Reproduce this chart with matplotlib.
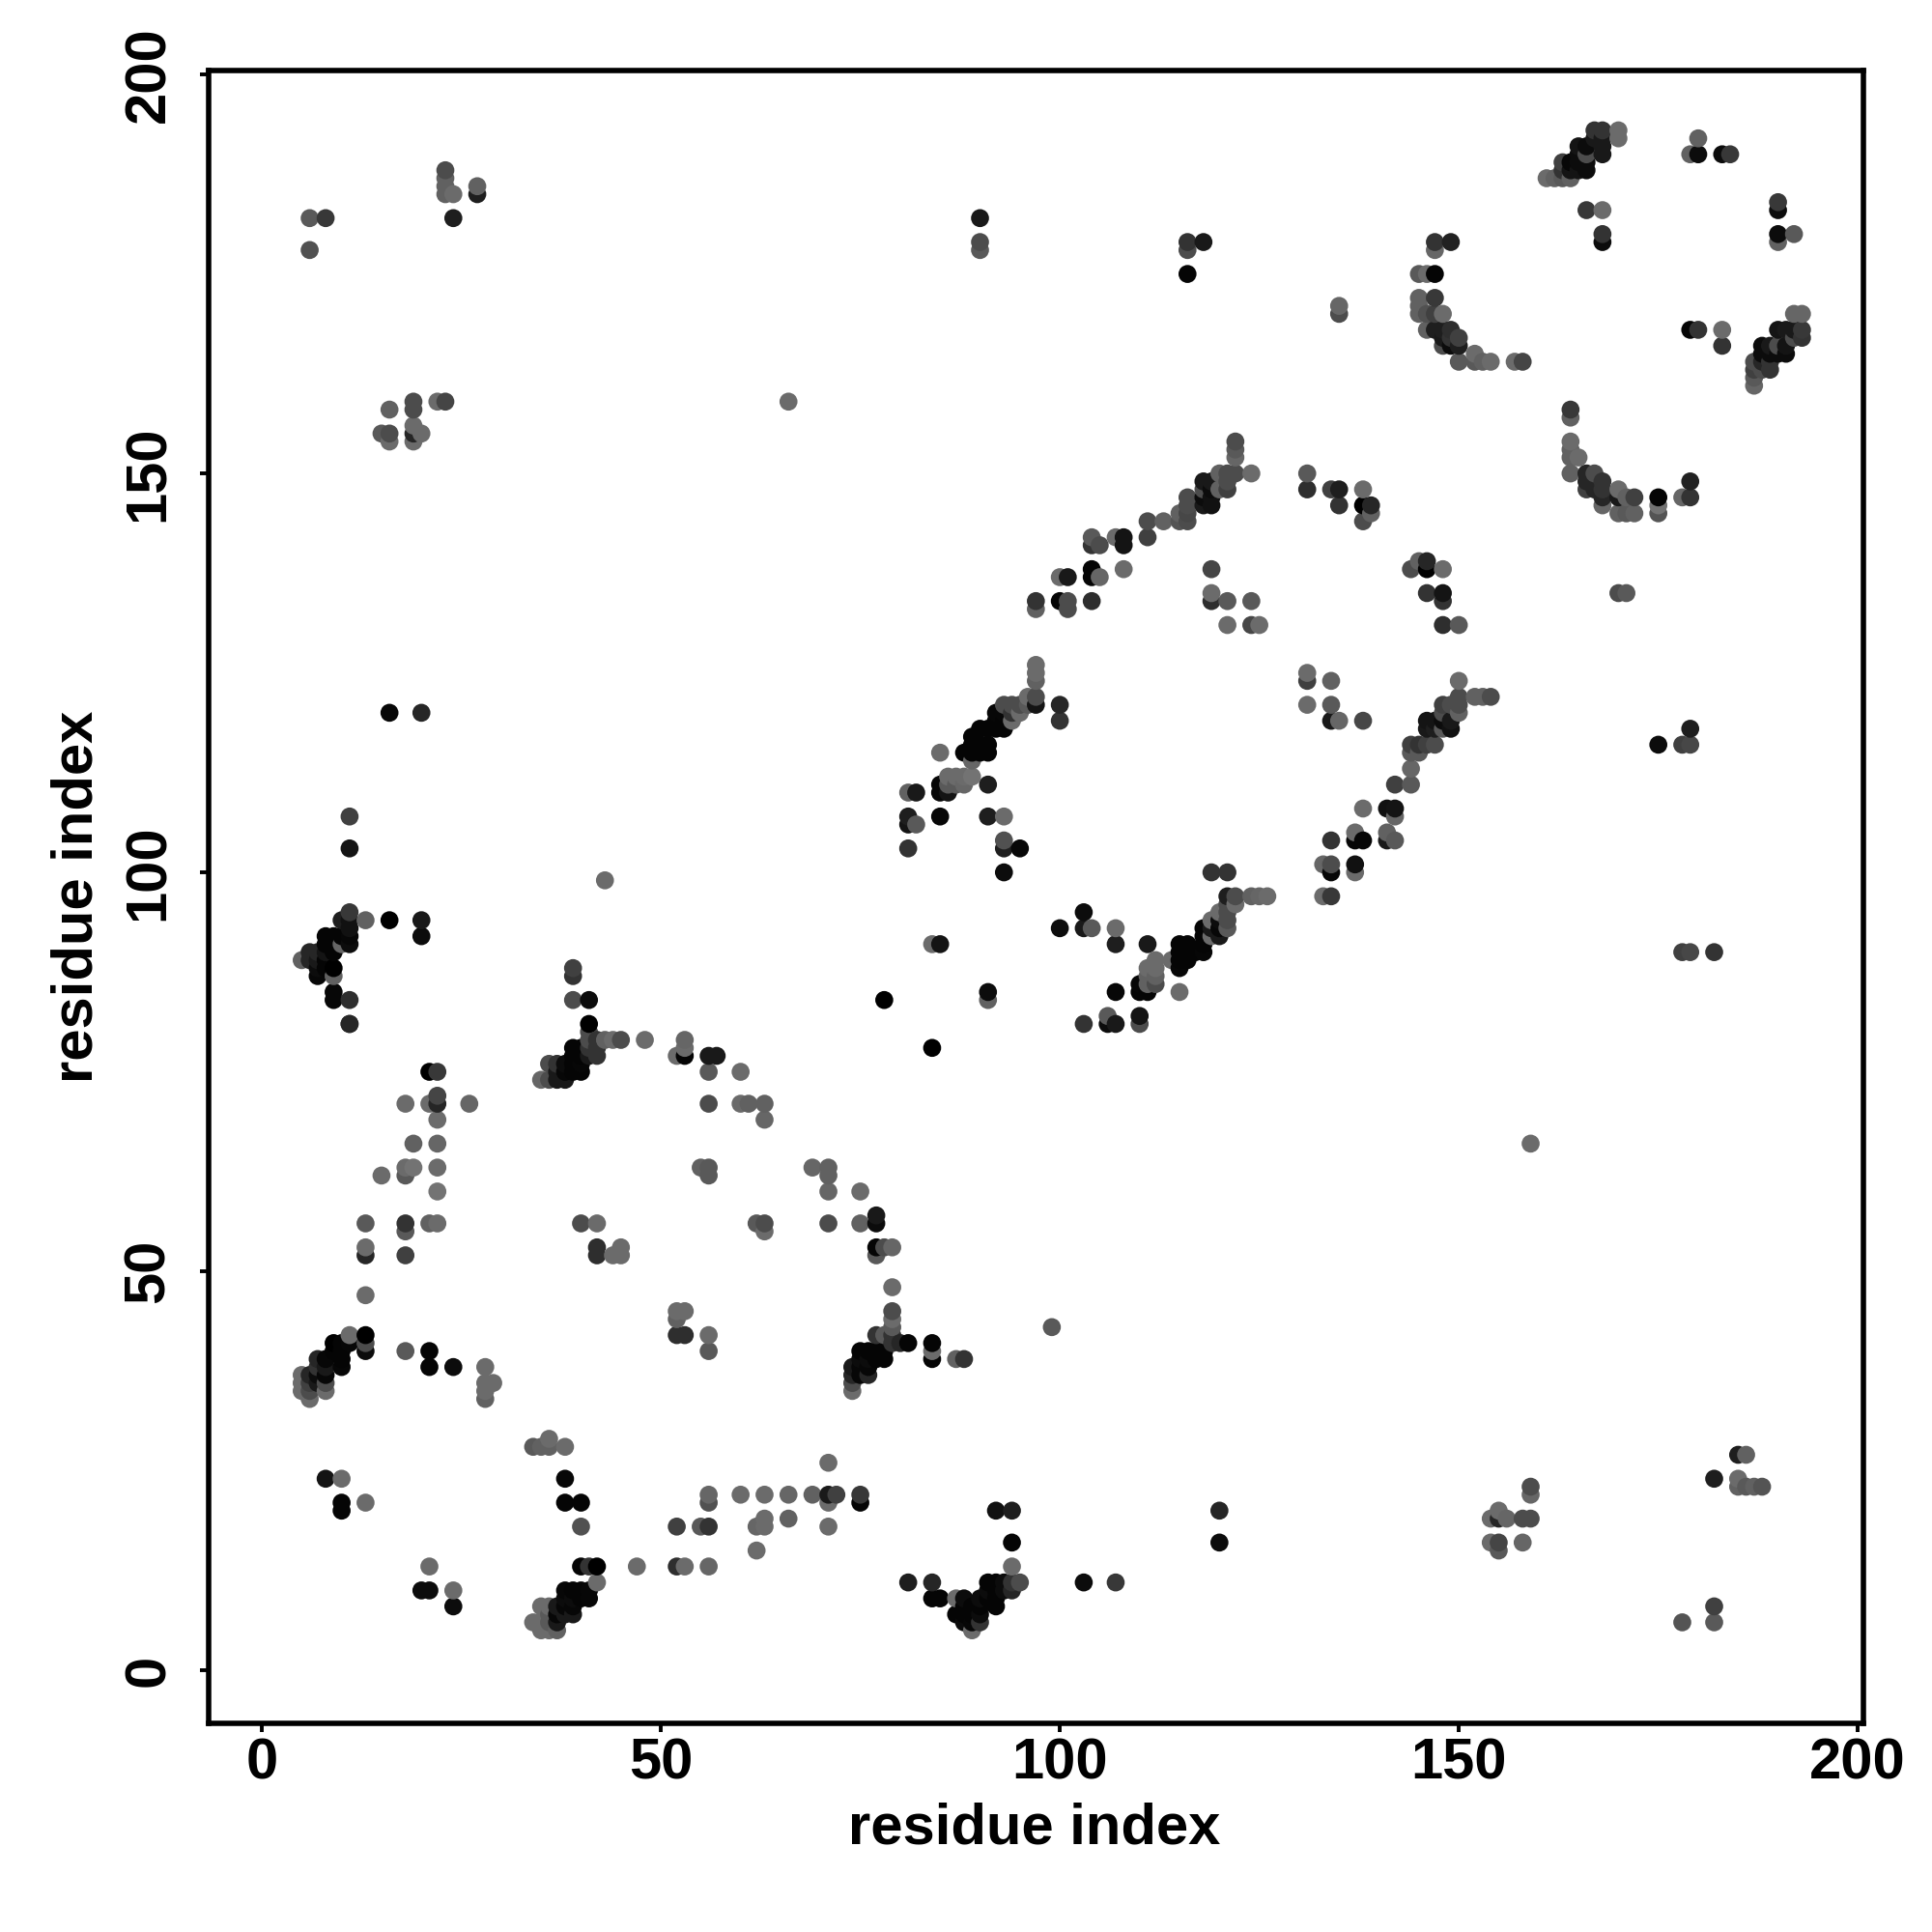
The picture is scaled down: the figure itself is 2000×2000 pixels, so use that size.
import matplotlib
matplotlib.use("Agg")
import matplotlib.pyplot as plt
import numpy as np

# contacts as (residue i, residue j, grey level), grouped by the blob they sit in
low_left = [(5,37,.42),(5,36,.42),(5,35,.42),(6,37,.15),(6,36,.25),(6,35,.3),(6,34,.42),(7,39,.15),(7,38,.2),(7,37,.05),(7,36,.1),
    (8,39,.03),(8,38,.1),(8,37,.03),(8,36,.3),(8,35,.42),(9,41,.0),(9,40,.02),(10,41,.02),(10,40,.02),(10,39,.02),(10,38,.03),
    (11,42,.42),(11,41,.03),(13,42,.0),(13,41,.3),(13,40,.05),(18,40,.35),(21,40,.02),(21,38,.02),(24,38,.05),
    (28,38,.42),(28,36,.42),(29,36,.42),(28,35,.42),(28,34,.38)]
upper_grey = [(11,81,.13),(21,75,.0),(22,75,.22),(18,71,.42),(21,71,.42),(22,72,.27),(22,71,.15),(26,71,.4),(22,69,.42),
    (19,66,.38),(22,66,.4),(18,63,.42),(19,63,.45),(18,62,.35),(15,62,.42),(22,63,.42),(22,60,.45),
    (13,56,.35),(18,56,.2),(18,55,.35),(21,56,.38),(22,56,.42),(13,53,.42),(13,52,.15),(18,52,.25),(13,47,.42)]
strand_36_80 = [(41,81,.0),(41,80,.3),(41,79,.3),(42,79,.2),(43,79,.38),(44,79,.42),(45,79,.3),(48,79,.42),(42,78,.2),(42,77,.2),
    (39,78,.02),(40,78,.02),(41,78,.2),(39,77,.02),(40,77,.02),(41,77,.1),(37,76,.2),(38,76,.05),(39,76,.02),(40,76,.03),
    (37,75,.1),(38,75,.03),(39,75,.02),(40,75,.02),(35,74,.4),(36,74,.3),(37,74,.1),(38,74,.1),(36,76,.3),
    (39,88,.25),(39,87,.2),(39,84,.3),(41,84,.05),(43,99,.42)]
mid_grey = [(40,56,.3),(42,56,.42),(42,53,.18),(42,52,.18),(44,52,.42),(45,53,.42),(45,52,.42),(52,45,.42),(53,45,.42),(52,44,.38),
    (52,42,.18),(53,42,.18),(56,42,.42),(56,40,.35),(52,77,.42),(53,79,.4),(53,78,.42),(53,77,.02),(56,77,.1),(57,77,.1),(56,75,.35),
    (56,71,.3),(60,75,.42),(60,71,.42),(61,71,.38),(63,71,.38),(63,69,.4),(55,63,.38),(56,63,.35),(56,62,.35),(69,63,.4),(71,63,.38),
    (71,62,.38),(71,60,.4),(75,60,.42),(62,56,.35),(63,56,.3),(63,55,.42),(71,56,.3),(75,56,.38),(77,57,.1),(77,56,.05),
    (77,53,.02),(78,53,.3),(79,53,.4),(77,52,.35),(79,48,.42)]
bottom_row = [(36,29,.42),(34,28,.35),(35,28,.38),(36,28,.38),(38,28,.42),(8,24,.08),(10,24,.42),(38,24,.03),(10,21,.02),(10,20,.02),
    (13,21,.42),(38,21,.02),(40,21,.02),(40,18,.32),(56,22,.4),(56,21,.32),(60,22,.42),(63,22,.42),(66,22,.4),(69,22,.38),(71,22,.1),
    (72,22,.25),(75,22,.22),(75,21,.02),(71,21,.42),(71,26,.42),(63,19,.42),(66,19,.38),(62,18,.4),(63,18,.42),(71,18,.42),
    (52,18,.25),(55,18,.35),(56,18,.2),(62,15,.42),(21,13,.42),(20,10,.05),(21,10,.05),(24,10,.42),(24,8,.05),
    (47,13,.42),(52,13,.18),(53,13,.42),(56,13,.4)]
low_strand = [(40,13,.02),(41,13,.2),(42,13,.0),(42,11,.42),(41,10,.03),(41,9,.03),(40,10,.02),(40,9,.02),(39,10,.02),(38,10,.03),
    (39,9,.05),(39,8,.03),(39,7,.1),(38,9,.05),(38,8,.03),(37,8,.1),(37,7,.03),(37,6,.1),(36,8,.42),(35,8,.42),(36,7,.35),(34,6,.42),
    (35,6,.42),(35,5,.42),(36,5,.42),(37,5,.38),(36,6,.35),(38,7,.1)]
strand_74_81 = [(79,45,.3),(79,44,.42),(79,43,.35),(77,42,.2),(78,42,.35),(79,42,.2),(79,41,.2),(81,41,.02),(80,41,.15),(75,40,.02),
    (76,40,.02),(77,40,.02),(78,40,.02),(77,39,.02),(78,39,.02),(75,39,.05),(76,39,.05),(76,38,.03),(75,38,.03),(74,38,.1),
    (76,37,.15),(75,37,.03),(74,37,.15),(74,36,.3),(74,35,.42),(84,41,.02),(84,40,.42),(84,39,.02),(87,39,.38),(88,39,.2),(99,43,.35)]
strand_88_95 = [(92,20,.07),(94,20,.12),(94,16,.02),(94,13,.42),(81,11,.12),(84,11,.15),(84,9,.02),(85,9,.02),(87,9,.42),(87,7,.02),
    (88,8,.02),(88,9,.05),(88,7,.02),(88,6,.05),(89,5,.42),(89,6,.03),(89,7,.02),(89,8,.02),(90,6,.2),(90,7,.05),(90,9,.05),(90,8,.02),
    (91,9,.02),(91,10,.05),(92,8,.02),(92,9,.02),(92,10,.02),(92,11,.02),(91,11,.02),(93,11,.05),(94,10,.15),(94,11,.2),(95,11,.3),
    (93,10,.05),(103,11,.05),(107,11,.22),(120,20,.15),(120,16,.05)]
diag_85_100 = [(97,126,.42),(97,125,.42),(97,124,.38),(97,122,.3),(96,122,.42),(97,121,.08),(100,121,.15),(100,119,.2),(93,121,.3),
    (94,121,.3),(95,121,.3),(96,121,.35),(92,120,.03),(93,120,.03),(94,120,.2),(95,120,.42),(94,119,.42),(92,119,.02),(93,119,.02),
    (90,118,.02),(91,118,.02),(92,118,.02),(93,118,.02),(89,117,.02),(89,116,.02),(90,116,.02),(91,116,.02),(89,115,.02),(90,115,.02),
    (91,115,.02),(88,115,.02),(89,114,.4),(85,115,.42),(86,112,.42),(87,112,.42),(88,112,.42),(89,112,.45),(85,111,.03),(86,111,.35),
    (87,111,.35),(88,111,.4),(91,111,.12),(85,110,.03),(86,110,.08),(81,110,.38),(82,110,.1),(81,107,.12),(81,106,.08),(82,106,.35),
    (85,107,.03),(91,107,.12),(93,107,.42),(81,103,.2),(93,104,.32),(93,103,.12),(95,103,.03),(93,100,.05)]
diag_110_126 = [(119,100,.2),(121,100,.2),(121,97,.12),(122,97,.3),(124,97,.38),(125,97,.4),(126,97,.42),(122,96,.42),(121,96,.3),
    (120,95,.42),(121,95,.3),(119,94,.42),(120,94,.05),(121,94,.3),(118,93,.02),(119,93,.1),(120,93,.03),(121,93,.35),(118,92,.02),
    (119,92,.42),(120,92,.1),(118,91,.02),(118,90,.03),(115,91,.02),(116,91,.02),(115,90,.02),(116,90,.02),(117,90,.02),(114,89,.42),
    (115,89,.02),(116,89,.02),(115,88,.03),(112,89,.42),(111,88,.42),(112,88,.42),(112,87,.38),(111,87,.38),(110,86,.03),(111,86,.38),
    (112,86,.3),(110,85,.02),(111,85,.02),(107,85,.03),(115,85,.42),(111,91,.1),(107,93,.42),(107,91,.12),(103,95,.05),(103,93,.1),
    (104,93,.35),(100,93,.05),(84,91,.42),(85,91,.08),(78,84,.0),(91,85,.05),(91,84,.38),(84,78,.0),(103,81,.2),(106,82,.35),
    (106,81,.05),(107,81,.1),(110,82,.08),(110,81,.3)]
right_of_ring = [(131,125,.42),(131,124,.25),(134,124,.38),(131,121,.42),(134,121,.35),(134,119,.1),(135,119,.4),(138,119,.28),
    (142,111,.25),(141,108,.07),(142,108,.08),(138,108,.42),(142,107,.4),(137,105,.42),(141,105,.38),(141,104,.1),(142,104,.35),
    (134,104,.2),(137,104,.03),(138,104,.03),(133,101,.4),(134,101,.3),(134,100,.03),(137,101,.07),(137,100,.42),(133,97,.42),(134,97,.22)]
diag_144_154 = [(148,134,.2),(148,131,.18),(150,131,.35),(150,124,.42),(150,122,.3),(152,122,.38),(153,122,.38),(154,122,.3),(150,121,.3),
    (148,121,.25),(149,121,.3),(150,120,.38),(148,120,.3),(146,119,.08),(147,119,.08),(149,119,.1),(148,119,.05),(146,118,.1),(147,118,.12),
    (148,118,.35),(149,118,.07),(144,116,.25),(145,116,.2),(146,116,.25),(147,116,.3),(144,115,.35),(145,115,.35),(144,113,.4),(144,111,.35),
    (179,118,.12),(175,116,.05),(178,116,.25),(179,116,.28),(178,90,.25),(179,90,.28),(182,90,.2)]
diag_97_125 = [(122,154,.3),(122,153,.35),(122,152,.4),(124,150,.42),(122,150,.3),(121,150,.3),(120,150,.38),(121,149,.3),(118,149,.1),
    (119,149,.1),(121,148,.25),(120,148,.38),(118,148,.3),(119,148,.05),(116,147,.3),(118,147,.05),(119,147,.07),(118,146,.1),(119,146,.07),
    (116,146,.3),(115,145,.38),(116,145,.28),(115,144,.33),(116,144,.3),(111,144,.3),(113,144,.38),(111,142,.25),(104,142,.35),(105,141,.3),
    (104,141,.2),(107,142,.42),(108,142,.08),(108,141,.08),(108,138,.42),(104,138,.02),(104,137,.02),(105,137,.4),(100,137,.42),(101,137,.1),
    (97,134,.2),(97,133,.38),(100,134,.02),(101,134,.3),(101,133,.3),(104,134,.18),(119,138,.27),(119,135,.42),(119,134,.18),(121,134,.35),
    (124,134,.35),(121,131,.42),(124,131,.28),(125,131,.42)]
ring_top = [(131,150,.35),(131,148,.18),(134,148,.25),(135,148,.12),(135,146,.2),(138,148,.42),(138,146,.0),(139,146,.15),(139,145,.38),
    (138,144,.3),(144,138,.3),(145,139,.38),(146,139,.15),(146,138,.0),(148,138,.42),(146,135,.2),(148,135,.08)]
top_left = [(6,182,.35),(8,182,.22),(6,178,.32),(23,188,.3),(23,187,.38),(23,186,.38),(23,185,.38),(24,185,.42),(24,182,.12),(27,186,.38),
    (27,185,.12),(22,159,.42),(23,159,.27),(19,159,.3),(19,158,.3),(16,158,.38),(19,156,.42),(20,155,.42),(19,155,.15),(19,154,.42),
    (15,155,.35),(16,155,.3),(16,154,.42),(66,159,.42),(159,66,.42),(16,120,.03),(20,120,.15),(90,182,.1),(90,179,.3),(90,178,.35)]
bottom_right = [(159,23,.3),(159,22,.4),(155,20,.42),(154,19,.42),(155,19,.15),(156,19,.4),(158,19,.3),(159,19,.3),(154,16,.42),(155,16,.27),
    (158,16,.4),(155,15,.35),(185,27,.12),(186,27,.38),(182,24,.12),(185,24,.42),(185,23,.38),(186,23,.35),(187,23,.38),(188,23,.33),
    (182,8,.25),(182,6,.35),(178,6,.33)]
top_right = [(170,193,.42),(170,192,.42),(167,193,.2),(168,193,.2),(167,192,.1),(168,192,.1),(165,191,.08),(166,191,.05),(168,191,.1),(168,190,.1),
    (165,190,.05),(166,190,.3),(163,189,.25),(164,189,.03),(165,189,.05),(166,189,.05),(163,188,.2),(164,188,.08),(166,188,.05),(165,188,.08),
    (161,187,.42),(162,187,.38),(163,187,.35),(164,187,.38),(180,192,.38),(179,190,.38),(180,190,.05),(183,190,.05),(184,190,.22),
    (166,183,.22),(168,183,.42),(168,180,.2),(168,179,.05),(190,184,.22),(190,183,.05),(190,180,.05),(192,180,.35),(190,179,.38),
    (116,175,.02),(116,178,.3),(116,179,.2),(118,179,.1),(135,171,.4),(135,170,.3)]
arc_145_158 = [(147,179,.2),(149,179,.13),(147,178,.4),(145,175,.35),(146,175,.42),(147,175,.02),(145,172,.38),(147,172,.22),(145,171,.38),
    (145,170,.38),(146,170,.32),(148,170,.42),(147,170,.25),(146,168,.38),(147,168,.12),(148,168,.12),(149,168,.18),(148,167,.1),(149,167,.2),
    (150,167,.25),(148,166,.3),(149,166,.05),(150,166,.12),(150,164,.35),(152,165,.42),(152,164,.35),(153,164,.38),(154,164,.42),(157,164,.42),
    (158,164,.27),(179,168,.02),(180,168,.2),(183,168,.42),(183,166,.2)]
strand_187_193 = [(192,170,.4),(193,170,.4),(190,168,.08),(191,168,.1),(192,168,.1),(193,168,.22),(192,167,.3),(193,167,.2),(188,166,.05),
    (189,166,.1),(190,166,.3),(191,166,.08),(188,165,.05),(189,165,.05),(190,165,.05),(191,165,.05),(187,164,.3),(188,164,.15),(189,164,.2),
    (187,163,.25),(188,163,.3),(189,163,.2),(187,162,.35),(187,161,.4)]
arc_164_179 = [(164,158,.22),(164,157,.38),(164,154,.42),(164,153,.38),(164,152,.38),(165,152,.42),(164,150,.38),(166,150,.15),(167,150,.3),
    (166,149,.15),(167,149,.15),(168,149,.2),(166,148,.25),(167,148,.15),(168,148,.2),(170,148,.42),(168,147,.15),(170,147,.1),(171,147,.38),
    (172,147,.25),(175,147,.02),(178,147,.4),(179,147,.2),(179,149,.13),(175,146,.45),(175,145,.33),(168,146,.4),(170,145,.38),(171,145,.35),
    (172,145,.38),(170,135,.3),(171,135,.35)]
left_94 = [(11,95,.22),(11,94,.07),(10,94,.12),(13,94,.38),(16,94,.0),(20,94,.1),(20,92,.05),(11,93,.07),(11,92,.03),(11,91,.05),(10,92,.02),
    (8,92,.02),(9,92,.02),(8,91,.02),(9,91,.02),(10,91,.4),(7,90,.15),(6,90,.15),(8,90,.08),(9,90,.02),(6,89,.15),(7,89,.1),(8,89,.02),
    (5,89,.38),(9,88,.0),(8,88,.02),(7,88,.05),(7,87,.03),(9,87,.38),(9,85,.03),(9,84,.03),(11,84,.18),(11,81,.15),(11,103,.08),(11,107,.25)]

groups = [low_left, upper_grey, strand_36_80, mid_grey, bottom_row, low_strand, strand_74_81, strand_88_95, diag_85_100, diag_110_126,
          right_of_ring, diag_144_154, diag_97_125, ring_top, top_left, bottom_right, top_right, arc_145_158, strand_187_193, arc_164_179, left_94]

tick_vals = [0, 50, 100, 150, 200]

pts = np.array([p for g in groups for p in g])
# contacts were drawn in residue order, so later ones sit on top
order = np.lexsort((pts[:, 1], pts[:, 0]))
pts = pts[order]

plt.rcParams['font.family'] = ['Liberation Sans', 'DejaVu Sans']
plt.rcParams['font.weight'] = 'bold'

fig = plt.figure(figsize=(20, 20), dpi=100)
ax = fig.add_axes([0.108, 0.108, 0.8565, 0.8555])
ax.scatter(pts[:, 0], pts[:, 1], c=pts[:, 2], cmap='gray', vmin=0, vmax=1, s=180, linewidths=0, zorder=3)
ax.set_xlim(-6.66, 200.7)
ax.set_ylim(-6.66, 200.5)
ax.set_xticks(tick_vals)
ax.set_yticks(tick_vals)
ax.tick_params(axis='both', length=6.5, width=2.8, labelsize=43)
ax.tick_params(axis='x', pad=4)
ax.tick_params(axis='y', pad=18)
for lab in ax.get_yticklabels():
    lab.set_rotation(90)
    lab.set_va('center')
for s in ax.spines.values():
    s.set_linewidth(4)
ax.set_xlabel('residue index', fontsize=43, fontweight='bold', va='center')
ax.set_ylabel('residue index', fontsize=43, fontweight='bold', va='center')
ax.xaxis.set_label_coords(0.499, -0.0637)
ax.yaxis.set_label_coords(-0.0794, 0.5)
fig.savefig('out.png', dpi=100)
